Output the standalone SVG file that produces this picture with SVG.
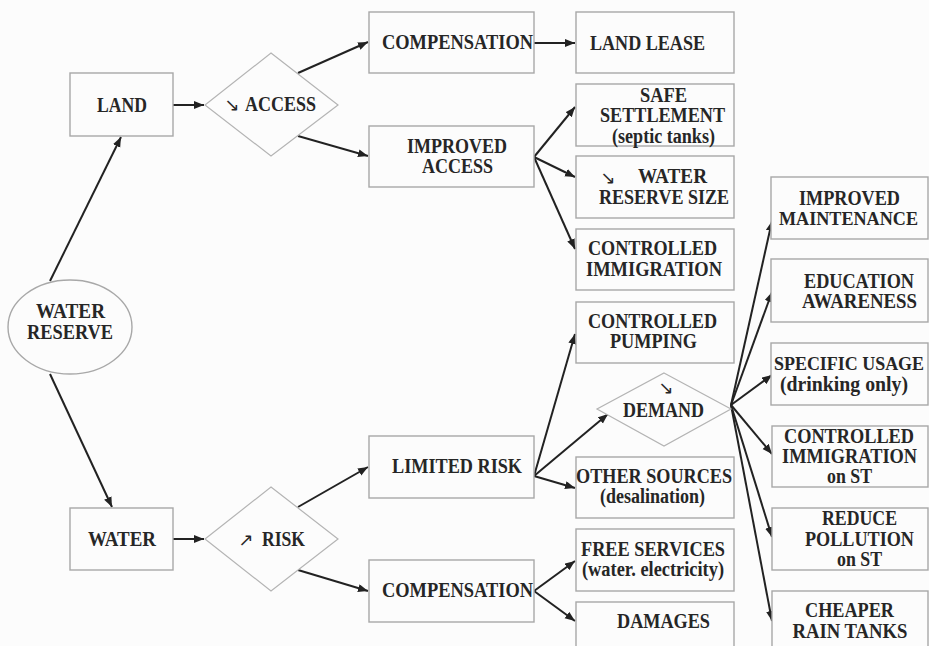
<svg xmlns="http://www.w3.org/2000/svg" width="929" height="646" viewBox="0 0 929 646">
<style>
.bg{fill:#fcfcfc}
.box{fill:#fcfcfc;stroke:#a8a8a8;stroke-width:1.4}
.dia{fill:#fcfcfc;stroke:#b4b4b4;stroke-width:1.2}
.t{font-family:'Liberation Serif','DejaVu Serif','Times New Roman',serif;font-weight:700;font-size:20px;fill:#262626;text-anchor:middle}
.s{font-size:18px}
.sym{font-family:'DejaVu Sans',sans-serif;font-weight:400;font-size:18px;fill:#262626;text-anchor:middle}
.c{stroke:#222;stroke-width:2;fill:none;marker-end:url(#ah)}
</style>
<defs>
<marker id="ah" markerUnits="userSpaceOnUse" markerWidth="12" markerHeight="10" refX="10" refY="4" orient="auto">
<path d="M0,0 L10,4 L0,8 Z" fill="#222"/>
</marker>
</defs>
<rect class="bg" x="0" y="0" width="929" height="646"/>

<g id="connectors">
<line class="c" x1="50" y1="281" x2="121" y2="137"/>
<line class="c" x1="50" y1="374" x2="112" y2="507"/>
<line class="c" x1="173" y1="105" x2="204" y2="105"/>
<line class="c" x1="173" y1="539" x2="204" y2="539"/>
<line class="c" x1="298" y1="73" x2="368" y2="42"/>
<line class="c" x1="298" y1="136" x2="368" y2="156"/>
<line class="c" x1="534" y1="43" x2="575" y2="43"/>
<line class="c" x1="534" y1="157" x2="575" y2="107"/>
<line class="c" x1="534" y1="157" x2="575" y2="177"/>
<line class="c" x1="534" y1="157" x2="575" y2="249"/>
<line class="c" x1="298" y1="507" x2="368" y2="467"/>
<line class="c" x1="298" y1="570" x2="368" y2="591"/>
<line class="c" x1="534" y1="476" x2="575" y2="334"/>
<line class="c" x1="534" y1="476" x2="608" y2="414"/>
<line class="c" x1="534" y1="476" x2="575" y2="488"/>
<line class="c" x1="534" y1="591" x2="575" y2="561"/>
<line class="c" x1="534" y1="591" x2="575" y2="621"/>
<line class="c" x1="731" y1="405" x2="772" y2="221"/>
<line class="c" x1="731" y1="405" x2="772" y2="292"/>
<line class="c" x1="731" y1="405" x2="772" y2="375"/>
<line class="c" x1="731" y1="405" x2="772" y2="454"/>
<line class="c" x1="731" y1="405" x2="772" y2="537"/>
<line class="c" x1="731" y1="405" x2="772" y2="621"/>
</g>

<g id="water-reserve">
<ellipse class="box" cx="70" cy="327" rx="62" ry="47"/>
<text class="t" x="70.5" y="318" textLength="69" lengthAdjust="spacingAndGlyphs">WATER</text>
<text class="t" x="70" y="339" textLength="86" lengthAdjust="spacingAndGlyphs">RESERVE</text>
</g>

<g id="land">
<rect class="box" x="70" y="73" width="103" height="63"/>
<text class="t" x="122" y="112" textLength="50" lengthAdjust="spacingAndGlyphs">LAND</text>
</g>

<g id="access">
<polygon class="dia" points="271,53 338,105 271,156 205,105"/>
<text class="sym" x="232" y="111">↘</text>
<text class="t" x="280.5" y="111" textLength="71" lengthAdjust="spacingAndGlyphs">ACCESS</text>
</g>

<g id="water">
<rect class="box" x="70" y="508" width="103" height="62"/>
<text class="t" x="122" y="546" textLength="68" lengthAdjust="spacingAndGlyphs">WATER</text>
</g>

<g id="risk">
<polygon class="dia" points="271,487 338,539 271,591 205,539"/>
<text class="sym" x="246" y="546">↗</text>
<text class="t" x="283.5" y="546" textLength="43" lengthAdjust="spacingAndGlyphs">RISK</text>
</g>

<g id="compensation-land">
<rect class="box" x="369" y="12" width="165" height="61"/>
<text class="t" x="457.5" y="49" textLength="151" lengthAdjust="spacingAndGlyphs">COMPENSATION</text>
</g>

<g id="land-lease">
<rect class="box" x="576" y="12" width="158" height="61"/>
<text class="t" x="647.5" y="50" textLength="115" lengthAdjust="spacingAndGlyphs">LAND LEASE</text>
</g>

<g id="improved-access">
<rect class="box" x="369" y="126" width="165" height="61"/>
<text class="t" x="457" y="153" textLength="100" lengthAdjust="spacingAndGlyphs">IMPROVED</text>
<text class="t" x="457.5" y="173" textLength="71" lengthAdjust="spacingAndGlyphs">ACCESS</text>
</g>

<g id="safe-settlement">
<rect class="box" x="576" y="84" width="158" height="62"/>
<text class="t" x="663.5" y="102" textLength="47" lengthAdjust="spacingAndGlyphs">SAFE</text>
<text class="t" x="662.5" y="122" textLength="125" lengthAdjust="spacingAndGlyphs">SETTLEMENT</text>
<text class="t" x="663.5" y="143" textLength="103" lengthAdjust="spacingAndGlyphs">(septic tanks)</text>
</g>

<g id="water-reserve-size">
<rect class="box" x="576" y="156" width="158" height="62"/>
<text class="sym" x="608" y="184">↘</text>
<text class="t" x="672.5" y="183" textLength="69" lengthAdjust="spacingAndGlyphs">WATER</text>
<text class="t" x="664" y="204" textLength="130" lengthAdjust="spacingAndGlyphs">RESERVE SIZE</text>
</g>

<g id="controlled-immigration">
<rect class="box" x="576" y="229" width="158" height="61"/>
<text class="t" x="652.5" y="255" textLength="129" lengthAdjust="spacingAndGlyphs">CONTROLLED</text>
<text class="t" x="654" y="276" textLength="136" lengthAdjust="spacingAndGlyphs">IMMIGRATION</text>
</g>

<g id="controlled-pumping">
<rect class="box" x="576" y="302" width="158" height="61"/>
<text class="t" x="652.5" y="328" textLength="129" lengthAdjust="spacingAndGlyphs">CONTROLLED</text>
<text class="t" x="653.5" y="348" textLength="87" lengthAdjust="spacingAndGlyphs">PUMPING</text>
</g>

<g id="demand">
<polygon class="dia" points="664,373 731,409 664,446 597,409"/>
<text class="sym" x="666" y="394">↘</text>
<text class="t" x="663.5" y="417" textLength="81" lengthAdjust="spacingAndGlyphs">DEMAND</text>
</g>

<g id="limited-risk">
<rect class="box" x="369" y="436" width="165" height="62"/>
<text class="t" x="457" y="473" textLength="130" lengthAdjust="spacingAndGlyphs">LIMITED RISK</text>
</g>

<g id="other-sources">
<rect class="box" x="576" y="457" width="158" height="61"/>
<text class="t" x="654" y="483" textLength="156" lengthAdjust="spacingAndGlyphs">OTHER SOURCES</text>
<text class="t" x="652.5" y="503" textLength="105" lengthAdjust="spacingAndGlyphs">(desalination)</text>
</g>

<g id="compensation-water">
<rect class="box" x="369" y="560" width="165" height="62"/>
<text class="t" x="457.5" y="597" textLength="151" lengthAdjust="spacingAndGlyphs">COMPENSATION</text>
</g>

<g id="free-services">
<rect class="box" x="576" y="529" width="158" height="62"/>
<text class="t" x="653" y="556" textLength="144" lengthAdjust="spacingAndGlyphs">FREE SERVICES</text>
<text class="t" x="653" y="576" textLength="142" lengthAdjust="spacingAndGlyphs">(water. electricity)</text>
</g>

<g id="damages">
<rect class="box" x="576" y="602" width="158" height="60"/>
<text class="t" x="663.5" y="628" textLength="93" lengthAdjust="spacingAndGlyphs">DAMAGES</text>
</g>

<g id="improved-maintenance">
<rect class="box" x="771" y="177" width="157" height="62"/>
<text class="t" x="849.5" y="205" textLength="101" lengthAdjust="spacingAndGlyphs">IMPROVED</text>
<text class="t s" x="848.5" y="225" textLength="139" lengthAdjust="spacingAndGlyphs">MAINTENANCE</text>
</g>

<g id="education-awareness">
<rect class="box" x="771" y="259" width="157" height="63"/>
<text class="t" x="859" y="288" textLength="110" lengthAdjust="spacingAndGlyphs">EDUCATION</text>
<text class="t" x="859.5" y="308" textLength="115" lengthAdjust="spacingAndGlyphs">AWARENESS</text>
</g>

<g id="specific-usage">
<rect class="box" x="771" y="343" width="157" height="62"/>
<text class="t s" x="849" y="370" textLength="150" lengthAdjust="spacingAndGlyphs">SPECIFIC USAGE</text>
<text class="t" x="844" y="391" textLength="128" lengthAdjust="spacingAndGlyphs">(drinking only)</text>
</g>

<g id="controlled-immigration-st">
<rect class="box" x="772" y="426" width="156" height="61"/>
<text class="t" x="849" y="443" textLength="130" lengthAdjust="spacingAndGlyphs">CONTROLLED</text>
<text class="t" x="849.5" y="463" textLength="135" lengthAdjust="spacingAndGlyphs">IMMIGRATION</text>
<text class="t" x="849.5" y="483" textLength="45" lengthAdjust="spacingAndGlyphs">on ST</text>
</g>

<g id="reduce-pollution">
<rect class="box" x="772" y="508" width="156" height="62"/>
<text class="t" x="859.5" y="525" textLength="75" lengthAdjust="spacingAndGlyphs">REDUCE</text>
<text class="t" x="859.5" y="546" textLength="109" lengthAdjust="spacingAndGlyphs">POLLUTION</text>
<text class="t" x="859.5" y="566" textLength="45" lengthAdjust="spacingAndGlyphs">on ST</text>
</g>

<g id="cheaper-rain-tanks">
<rect class="box" x="772" y="591" width="156" height="70"/>
<text class="t" x="849.5" y="617" textLength="89" lengthAdjust="spacingAndGlyphs">CHEAPER</text>
<text class="t" x="850" y="638" textLength="115" lengthAdjust="spacingAndGlyphs">RAIN TANKS</text>
</g>
</svg>
